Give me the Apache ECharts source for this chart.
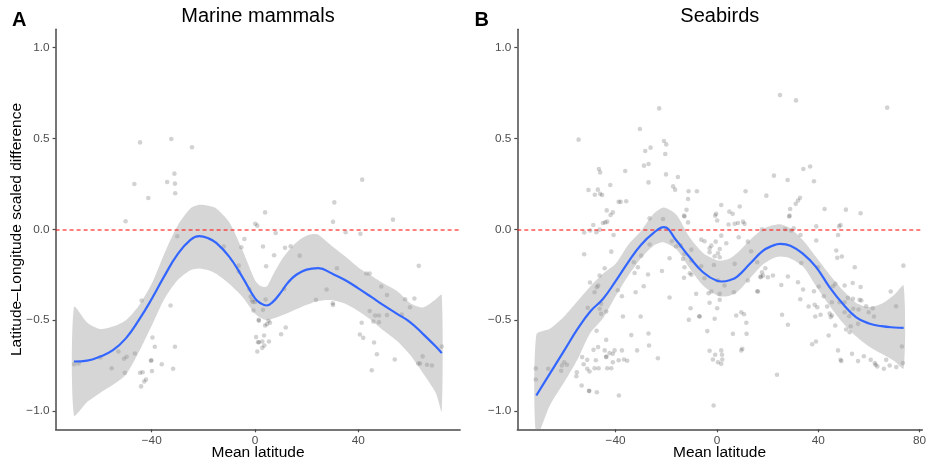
<!DOCTYPE html>
<html>
<head>
<meta charset="utf-8">
<script src="https://cdn.jsdelivr.net/npm/echarts@6/dist/echarts.min.js"></script>
<style>
  html, body { margin: 0; padding: 0; background: #ffffff; }
  #chart { width: 933px; height: 463px; }
</style>
</head>
<body>
<div id="chart"></div>
<script>
// ---- labels & ticks ----
const panelTitles = ['Marine mammals', 'Seabirds'];
const panelTags = ['A', 'B'];
const xAxisTitle = 'Mean latitude';
const yAxisTitle = 'Latitude–Longitude scaled difference';
const yTicks = [-1, -0.5, 0, 0.5, 1];
const xTicksMammals = [-40, 0, 40];
const xTicksSeabirds = [-40, 0, 40, 80];

// ---- marine mammals: observations [mean latitude, scaled difference] ----
const mammalPoints = [
  [-70.0,-0.742],[-68.3,-0.738],[-59.9,-0.705],[-55.5,-0.764],[-52.9,-0.672],[-50.7,-0.712],[-49.7,-0.701],
  [-50.4,-0.789],[-50.1,0.044],[-46.7,0.249],[-46.5,-0.683],[-44.5,0.478],[-44.5,-0.789],[-43.5,-0.786],
  [-43.9,-0.392],[-44.1,-0.864],[-42.9,-0.837],[-42.2,-0.826],[-41.3,0.172],[-40.3,-0.723],[-40.1,-0.72],
  [-39.9,-0.780],[-39.7,-0.595],[-38.8,-0.646],[-36.1,-0.742],[-34.0,0.260],[-32.7,-0.419],[-32.4,0.497],
  [-31.7,-0.767],[-31.2,0.306],[-31.0,0.251],[-31.0,-0.646],[-30.9,0.198],[-30.1,-0.038],[-24.4,0.451],
  [-12.1,-0.095],[-6.3,-0.2],[-6.3,-0.232],[-5.3,-0.099],[-4.1,-0.053],[-2.2,-0.33],[-1.7,-0.37],
  [-1.2,-0.39],[-0.8,-0.40],[0.0,-0.40],[-0.6,-0.447],[0.1,0.03],[0.9,0.02],[1.4,-0.498],[0.4,-0.593],
  [1.2,-0.621],[0.9,-0.672],[3.1,-0.095],[3.1,-0.443],[3.9,0.093],[4.3,-0.203],[4.1,-0.386],[1.5,-0.503],
  [5.2,-0.503],[5.8,-0.514],[4.6,-0.522],[3.9,-0.529],[3.5,-0.584],[5.4,-0.617],[1.5,-0.621],[2.8,-0.617],
  [3.6,-0.639],[2.8,-0.652],[7.4,-0.143],[8.0,-0.02],[10.1,-0.577],[11.3,-0.328],[11.6,-0.102],[11.9,-0.540],
  [13.8,-0.093],[17.3,-0.145],[23.6,-0.388],[27.7,-0.331],[30.1,-0.407],[30.2,-0.416],[30.2,0.041],
  [30.7,0.148],[31.7,-0.214],[35.1,-0.016],[40.6,-0.579],[40.8,-0.025],[41.3,-0.514],[41.5,0.273],
  [41.9,-0.597],[43.1,-0.243],[44.4,-0.243],[44.4,-0.449],[45.2,-0.775],[45.8,-0.507],[46.1,-0.623],
  [46.5,-0.474],[47.2,-0.687],[48.0,-0.474],[48.0,-0.511],[48.9,-0.315],[51.1,-0.361],[51.1,-0.472],
  [53.4,0.053],[54.1,-0.716],[56.8,-0.469],[58.1,-0.385],[60.0,-0.429],[61.7,-0.381],[63.2,-0.738],
  [63.4,-0.201],[63.9,-0.738],[64.9,-0.699],[66.6,-0.745],[68.5,-0.749],[72.3,-0.645]
];

// ---- marine mammals: smoother with confidence band ----
const mammalSmoothLat = [-70.1,-65,-60,-55,-50,-45,-40,-35,-30,-25,-21.6,-18,-15,-10,-5,0,2,4.5,7,10,12,14,16,18,20,22,24.5,30,35,40,45,50,55,60,65,70,72.3];
const mammalFit   = [-0.727,-0.722,-0.70,-0.665,-0.60,-0.50,-0.383,-0.255,-0.138,-0.058,-0.038,-0.05,-0.075,-0.15,-0.26,-0.38,-0.405,-0.419,-0.398,-0.347,-0.307,-0.274,-0.25,-0.233,-0.222,-0.216,-0.214,-0.245,-0.28,-0.325,-0.372,-0.42,-0.465,-0.51,-0.575,-0.645,-0.681];
const mammalLower = [-1.024,-0.95,-0.90,-0.855,-0.80,-0.675,-0.53,-0.38,-0.28,-0.225,-0.215,-0.225,-0.245,-0.30,-0.37,-0.465,-0.485,-0.50,-0.49,-0.475,-0.465,-0.452,-0.44,-0.427,-0.415,-0.405,-0.395,-0.39,-0.41,-0.45,-0.50,-0.56,-0.615,-0.69,-0.79,-0.90,-1.0];
const mammalUpper = [-0.428,-0.512,-0.548,-0.535,-0.50,-0.42,-0.30,-0.13,0.02,0.115,0.135,0.13,0.115,0.04,-0.11,-0.28,-0.31,-0.315,-0.25,-0.175,-0.135,-0.10,-0.072,-0.05,-0.035,-0.027,-0.03,-0.095,-0.15,-0.21,-0.255,-0.30,-0.34,-0.405,-0.43,-0.385,-0.361];

// ---- seabirds: observations [mean latitude, scaled difference] ----
const seabirdPoints = [
  [-54.6,0.493],[-46.6,0.332],[-46.1,0.313],[-50.7,0.216],[-47.0,0.218],[-48.2,0.19],[-46.1,0.195],[-45.3,0.189],
  [-48.8,0.024],[-52.4,-0.018],[-50.0,-0.007],[-47.6,-0.016],[-46.3,-0.002],[-52.4,-0.137],[-46.3,-0.254],
  [-50.1,-0.293],[-47.4,-0.319],[-46.9,-0.309],[-48.3,-0.346],[-51.0,-0.432],[-47.5,-0.558],[-48.7,-0.663],
  [-46.9,-0.648],[-52.6,-0.742],[-51.2,-0.718],[-47.8,-0.72],[-51.2,-0.767],[-50.3,-0.782],[-48.3,-0.764],
  [-46.7,-0.764],[-55.3,-0.786],[-55.5,-0.808],[-60.3,-0.731],[-59.2,-0.745],[-61.2,-0.749],[-61.5,-0.778],
  [-66.6,-0.767],[-71.5,-0.765],[-71.5,-0.826],[-53.4,-0.859],[-50.5,-0.888],[-50.4,-0.89],[-47.4,-0.896],
  [-53.2,-0.703],
  [-22.8,0.665],[-30.4,0.552],[-26.2,0.449],[-28.3,0.431],[-20.9,0.486],[-20.0,0.467],[-20.4,0.414],
  [-28.8,0.35],[-27.0,0.359],[-27.0,0.258],[-20.1,0.302],[-17.3,0.236],[-16.5,0.218],[-15.4,0.288],
  [-36.2,0.321],[-42.1,0.244],[-38.8,0.151],[-38.0,0.151],[-35.8,0.154],[-43.5,0.104],[-41.1,0.093],
  [-42.0,0.079],[-44.1,0.038],[-43.3,0.042],[-45.0,0.035],[-40.8,-0.031],[-26.6,0.06],[-21.3,0.057],
  [-17.8,-0.066],[-16.1,-0.093],[-26.6,-0.084],[-29.9,-0.145],[-41.7,-0.123],[-18.7,-0.159],[-44.3,-0.214],
  [-32.8,-0.181],[-31.2,-0.209],[-32.5,-0.24],[-21.7,-0.229],[-27.2,-0.249],[-28.9,-0.313],[-32.1,-0.346],
  [-39.1,-0.335],[-18.7,-0.375],[-37.5,-0.368],[-45.7,-0.41],[-46.3,-0.437],[-45.7,-0.465],[-43.7,-0.452],
  [-37.1,-0.48],[-30.1,-0.48],[-33.8,-0.582],[-27.0,-0.573],[-26.8,-0.639],[-31.5,-0.666],[-43.7,-0.608],
  [-44.3,-0.666],[-42.4,-0.681],[-41.1,-0.685],[-40.4,-0.666],[-37.5,-0.666],[-36.7,-0.716],[-35.4,-0.723],
  [-38.8,-0.72],[-43.8,-0.703],[-43.6,-0.70],[-41.1,-0.731],[-41.7,-0.764],[-43.3,-0.764],[-23.3,-0.709],
  [-38.7,-0.914],
  [-11.2,0.209],[-7.9,0.209],[-11.4,0.167],[1.7,0.134],[9.0,0.125],[-12.0,0.107],[4.9,0.097],[6.2,0.085],
  [-0.3,0.085],[-0.7,0.075],[-13.0,0.075],[-12.8,0.07],[-11.4,0.038],[0.1,0.048],[4.6,0.026],[7.0,0.03],
  [8.3,0.035],[10.3,0.042],[10.9,0.03],[11.3,0.209],[-6.2,-0.057],[-4.9,-0.066],[-0.5,-0.068],[1.7,-0.035],
  [8.6,-0.044],[12.2,-0.068],[3.7,-0.077],[-14.3,-0.09],[-2.9,-0.104],[-2.9,-0.126],[-2.2,-0.09],[1.1,-0.108],
  [0.4,-0.132],[1.1,-0.154],[-10.1,-0.112],[-10.1,-0.172],[-12.8,-0.135],[-13.4,-0.163],[13.5,-0.121],
  [-0.9,-0.148],[15.9,-0.181],[7.0,-0.19],[-1.2,-0.196],[-6.2,-0.203],[-12.8,-0.209],[-10.7,-0.242],
  [-10.1,-0.25],[-13.0,-0.267],[-4.9,-0.269],[0.4,-0.282],[12.2,-0.282],[17.2,-0.264],[3.0,-0.309],
  [-3.3,-0.352],[-2.2,-0.342],[1.1,-0.355],[-8.2,-0.355],[6.7,-0.346],[15.9,-0.341],[1.1,-0.388],
  [-2.9,-0.404],[-10.4,-0.434],[0.1,-0.434],[-7.0,-0.478],[-6.8,-0.48],[-11.1,-0.498],[-0.9,-0.492],
  [7.6,-0.474],[9.6,-0.456],[10.7,-0.467],[11.6,-0.514],[-3.8,-0.56],[6.3,-0.575],[11.7,-0.575],
  [-2.9,-0.668],[-0.7,-0.69],[-1.6,-0.716],[1.7,-0.666],[2.0,-0.69],[2.1,-0.716],[0.4,-0.731],[1.7,-0.74],
  [9.6,-0.666],[10.0,-0.657],[-1.3,-0.969],
  [24.9,0.738],[31.2,0.709],[34.1,0.332],[36.8,0.345],[22.5,0.295],[27.9,0.271],[38.3,0.264],[19.5,0.185],
  [32.8,0.173],[32.0,0.158],[31.1,0.14],[28.9,0.112],[42.5,0.112],[28.7,0.075],[28.5,0.07],[17.8,0.0],
  [26.9,0.0],[29.3,-0.007],[30.3,0.005],[39.2,0.016],[39.2,-0.062],[33.0,-0.031],[47.1,-0.117],
  [47.5,-0.157],[33.3,-0.185],[19.1,-0.214],[17.8,-0.236],[18.2,-0.254],[17.3,-0.26],[20.1,-0.264],
  [22.1,-0.254],[28.0,-0.26],[39.9,-0.209],[16.2,-0.342],[25.4,-0.306],[32.0,-0.291],[40.2,-0.315],
  [34.0,-0.331],[38.3,-0.341],[32.9,-0.385],[42.2,-0.368],[45.8,-0.313],[46.7,-0.3],[36.2,-0.425],
  [38.6,-0.415],[39.6,-0.429],[43.5,-0.425],[45.4,-0.401],[40.9,-0.47],[38.8,-0.48],[25.7,-0.47],
  [28.0,-0.525],[44.5,-0.463],[45.4,-0.474],[44.9,-0.483],[46.7,-0.529],[44.1,-0.584],[39.1,-0.617],
  [37.6,-0.632],[47.8,-0.666],[48.8,-0.718],[23.7,-0.8],
  [67.2,0.669],[50.9,0.108],[56.7,0.088],[48.8,0.024],[48.2,0.016],[47.8,-0.031],[49.3,-0.15],[54.4,-0.209],
  [73.6,-0.2],[53.6,-0.295],[56.7,-0.317],[50.4,-0.309],[68.6,-0.342],[51.7,-0.377],[53.7,-0.382],
  [56.3,-0.388],[57.0,-0.392],[50.4,-0.401],[48.4,-0.401],[55.9,-0.441],[58.9,-0.423],[61.5,-0.434],
  [59.9,-0.456],[70.7,-0.423],[50.4,-0.456],[52.2,-0.478],[53.8,-0.437],[62.0,-0.48],[55.7,-0.52],
  [52.8,-0.533],[51.0,-0.551],[52.4,-0.566],[73.0,-0.645],[53.3,-0.685],[58.0,-0.698],[49.1,-0.725],
  [55.7,-0.725],[60.7,-0.718],[62.3,-0.736],[62.6,-0.745],[63.3,-0.754],[66.8,-0.718],[68.2,-0.749],
  [65.9,-0.767],[70.8,-0.758],[73.4,-0.736]
];

// ---- seabirds: smoother with confidence band ----
const seabirdSmoothLat = [-71.3,-66,-60,-55,-50,-45,-40,-35,-30,-25,-21,-16,-11,-5.5,0,2,5,8,13,18,22,25,29,34,39,44.5,50,55,60,65,70,73.7];
const seabirdFit   = [-0.914,-0.795,-0.66,-0.548,-0.452,-0.383,-0.285,-0.18,-0.086,-0.02,0.012,-0.062,-0.15,-0.236,-0.283,-0.287,-0.28,-0.26,-0.19,-0.12,-0.09,-0.08,-0.09,-0.135,-0.205,-0.319,-0.415,-0.484,-0.518,-0.533,-0.54,-0.542];
const seabirdLower = [-1.14,-0.97,-0.835,-0.715,-0.57,-0.49,-0.368,-0.255,-0.16,-0.09,-0.072,-0.11,-0.21,-0.309,-0.364,-0.37,-0.365,-0.345,-0.27,-0.195,-0.16,-0.15,-0.16,-0.205,-0.31,-0.42,-0.52,-0.59,-0.645,-0.685,-0.725,-0.765];
const seabirdUpper = [-0.579,-0.547,-0.475,-0.395,-0.315,-0.245,-0.19,-0.085,-0.01,0.085,0.12,0.08,-0.04,-0.13,-0.17,-0.172,-0.16,-0.13,-0.06,0.0,0.022,0.028,0.005,-0.06,-0.15,-0.25,-0.34,-0.405,-0.428,-0.41,-0.36,-0.31];

// ---- styling ----
const FONT = '"Liberation Sans", Arial, Helvetica, sans-serif';
const AXIS_COLOR = '#4a4a4a';
const TICK_TEXT = '#4d4d4d';

const minusFmt = (v, digits) => (v < 0 ? '\u2212' : '') + (digits ? Math.abs(v).toFixed(digits) : String(Math.abs(v)));

function makeXAxis(gridIndex, min, max, ticks) {
  return {
    type: 'value', gridIndex, min, max,
    axisLine: { show: true, onZero: false, lineStyle: { color: AXIS_COLOR, width: 1.5 } },
    axisTick: { show: true, length: 3, customValues: ticks, lineStyle: { color: AXIS_COLOR, width: 1.2 } },
    axisLabel: { customValues: ticks, margin: 5, color: TICK_TEXT, fontFamily: FONT, fontSize: 11.8,
                 formatter: v => minusFmt(v, 0) },
    splitLine: { show: false }
  };
}
function makeYAxis(gridIndex) {
  return {
    type: 'value', gridIndex, min: -1.1, max: 1.1,
    axisLine: { show: true, onZero: false, lineStyle: { color: AXIS_COLOR, width: 1.5 } },
    axisTick: { show: true, length: 3, customValues: yTicks, lineStyle: { color: AXIS_COLOR, width: 1.2 } },
    axisLabel: { customValues: yTicks, margin: 6, color: TICK_TEXT, fontFamily: FONT, fontSize: 11.8,
                 formatter: v => minusFmt(v, 1) },
    splitLine: { show: false }
  };
}

// Confidence ribbon: one closed shape through the upper edge and back along the lower edge.
function bandSeries(idx, lat, lower, upper) {
  return {
    type: 'custom', xAxisIndex: idx, yAxisIndex: idx, z: 3, silent: true, clip: true,
    data: lat.map((x, i) => [x, lower[i], upper[i]]),
    encode: { x: 0, y: [1, 2] },
    renderItem: (params, api) => {
      if (params.dataIndex !== 0) return null;
      const top = lat.map((x, i) => api.coord([x, upper[i]]));
      const bottom = lat.map((x, i) => api.coord([x, lower[i]])).reverse();
      return {
        type: 'polygon',
        shape: { points: top.concat(bottom), smooth: 0.25 },
        style: { fill: 'rgba(153,153,153,0.4)', stroke: null }
      };
    }
  };
}

function panelSeries(idx, points, lat, fit, lower, upper) {
  return [
    {
      type: 'scatter', xAxisIndex: idx, yAxisIndex: idx, data: points,
      symbol: 'circle', symbolSize: 4.6, z: 2,
      itemStyle: { color: 'rgba(0,0,0,0.22)', borderWidth: 0 },
      emphasis: { disabled: true }
    },
    bandSeries(idx, lat, lower, upper),
    {
      type: 'line', xAxisIndex: idx, yAxisIndex: idx,
      data: lat.map((x, i) => [x, fit[i]]),
      smooth: 0.45, showSymbol: false, z: 5,
      lineStyle: { color: '#3366FF', width: 2.2 },
      emphasis: { disabled: true },
      markLine: {
        silent: true, symbol: 'none', label: { show: false }, z: 4,
        lineStyle: { color: 'rgba(255,20,20,0.72)', type: [4, 3], width: 1.6 },
        data: [{ yAxis: 0 }]
      }
    }
  ];
}

const textStyle = (size, weight) => ({ fontFamily: FONT, fontSize: size, fontWeight: weight || 'normal', fill: '#000' });

const option = {
  animation: false,
  backgroundColor: '#ffffff',
  grid: [
    { left: 55.6, right: 472.9, top: 29.3, bottom: 33.7 },
    { left: 517.3, right: 10.6, top: 29.3, bottom: 33.7 }
  ],
  xAxis: [ makeXAxis(0, -77.2, 79.4, xTicksMammals), makeXAxis(1, -78.8, 81.1, xTicksSeabirds) ],
  yAxis: [ makeYAxis(0), makeYAxis(1) ],
  series: [
    ...panelSeries(0, mammalPoints, mammalSmoothLat, mammalFit, mammalLower, mammalUpper),
    ...panelSeries(1, seabirdPoints, seabirdSmoothLat, seabirdFit, seabirdLower, seabirdUpper)
  ],
  graphic: [
    { type: 'text', x: 12, y: 20, style: Object.assign({ text: panelTags[0], textAlign: 'left', textVerticalAlign: 'middle' }, textStyle(20, 'bold')) },
    { type: 'text', x: 474.5, y: 20, style: Object.assign({ text: panelTags[1], textAlign: 'left', textVerticalAlign: 'middle' }, textStyle(20, 'bold')) },
    { type: 'text', x: 258, y: 16.5, style: Object.assign({ text: panelTitles[0], textAlign: 'center', textVerticalAlign: 'middle' }, textStyle(20)) },
    { type: 'text', x: 719.8, y: 16.5, style: Object.assign({ text: panelTitles[1], textAlign: 'center', textVerticalAlign: 'middle' }, textStyle(20)) },
    { type: 'text', x: 258, y: 452.6, style: Object.assign({ text: xAxisTitle, textAlign: 'center', textVerticalAlign: 'middle' }, textStyle(15.5)) },
    { type: 'text', x: 719.5, y: 452.6, style: Object.assign({ text: xAxisTitle, textAlign: 'center', textVerticalAlign: 'middle' }, textStyle(15.5)) },
    { type: 'text', x: 16.6, y: 229.5, rotation: Math.PI / 2, style: Object.assign({ text: yAxisTitle, textAlign: 'center', textVerticalAlign: 'middle' }, textStyle(15.5)) }
  ]
};

const chart = echarts.init(document.getElementById('chart'), null, { renderer: 'canvas' });
chart.setOption(option);
</script>
</body>
</html>
